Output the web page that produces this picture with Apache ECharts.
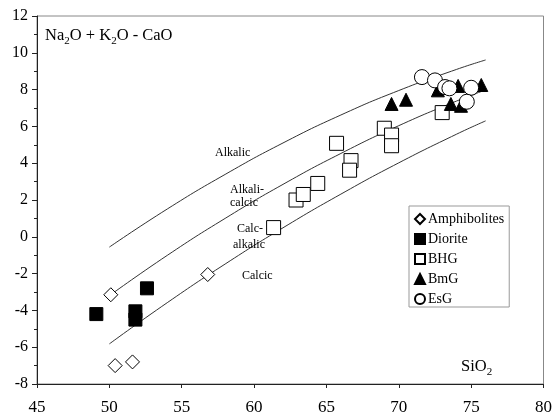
<!DOCTYPE html>
<html>
<head>
<meta charset="utf-8">
<script src="https://cdn.jsdelivr.net/npm/echarts@6/dist/echarts.min.js"></script>
<style>html,body{margin:0;padding:0;background:#fff}#c{width:555px;height:417px}</style>
</head>
<body>
<div id="c"></div>
<script>
// ---- data ----
var xTicks = [45, 50, 55, 60, 65, 70, 75, 80];
var yTicks = [-8, -6, -4, -2, 0, 2, 4, 6, 8, 10, 12];
var seriesNames = ['Amphibolites', 'Diorite', 'BHG', 'BmG', 'EsG'];

var amphibolites = [[50.1, -3.15], [56.8, -2.05], [50.4, -7.0], [51.6, -6.8]];
var diorite = [[49.1, -4.2], [52.6, -2.8], [51.8, -4.05], [51.8, -4.5]];
var bhg = [[61.35, 0.5], [62.9, 2.0], [63.4, 2.3], [64.4, 2.9], [65.7, 5.08], [66.7, 4.14],
           [66.6, 3.62], [69.0, 5.9], [69.5, 5.53], [69.5, 4.95], [73.0, 6.75]];
var bmg = [[69.5, 7.22], [70.5, 7.45], [72.7, 7.96], [74.1, 8.2], [75.7, 8.25], [73.6, 7.22], [74.3, 7.12]];
var esg = [[71.6, 8.68], [72.5, 8.5], [73.2, 8.14], [73.5, 8.07], [75.0, 8.1], [74.7, 7.34]];

// boundary curves
var curveAlkalic = [[50, -0.56], [54, 1.51], [58, 3.39], [62, 5.10], [66, 6.62], [70, 7.95], [74, 9.10], [76, 9.61]];
var curveAlkaliCalcic = [[50, -3.20], [54, -1.01], [58, 1.00], [62, 2.85], [66, 4.53], [70, 6.04], [74, 7.38], [76, 7.98]];
var curveCalcAlkalic = [[50, -5.82], [54, -3.58], [58, -1.48], [62, 0.49], [66, 2.32], [70, 4.02], [74, 5.58], [76, 6.30]];

var serif = '"Liberation Serif", "DejaVu Serif", serif';
var chart = echarts.init(document.getElementById('c'));

function lineSeries(d) {
  return {
    type: 'line', data: d, smooth: true, showSymbol: false, symbol: 'none',
    lineStyle: {color: '#333', width: 1}, silent: true, z: 1, legendHoverLink: false
  };
}
function scatter(name, d, symbol, size, fill) {
  return {
    name: name, type: 'scatter', data: d, symbol: symbol, symbolSize: size, z: 3,
    itemStyle: {color: fill, borderColor: '#000', borderWidth: 1, opacity: 1}
  };
}
var richSub = {
  n: {fontSize: 16.5, fontFamily: serif, color: '#000', lineHeight: 19, verticalAlign: 'top'},
  s: {fontSize: 11, fontFamily: serif, color: '#000', lineHeight: 11, verticalAlign: 'top', padding: [9, 0, 0, 0]}
};
function lbl(x, y, t) {
  return {type: 'text', left: x, top: y, style: {text: t, font: '12px ' + serif, fill: '#000', textAlign: 'center'}, z: 10};
}

chart.setOption({
  animation: false,
  backgroundColor: '#fff',
  grid: {left: 37, right: 9, top: 16, bottom: 33, show: true, borderColor: '#888', borderWidth: 1, backgroundColor: 'transparent'},
  xAxis: {
    type: 'value', min: xTicks[0], max: xTicks[xTicks.length - 1], interval: 5,
    axisLine: {show: true, onZero: false, lineStyle: {color: '#222', width: 1}},
    axisTick: {show: true, length: 4, lineStyle: {color: '#222'}},
    splitLine: {show: false},
    axisLabel: {fontSize: 17, fontFamily: serif, color: '#000', margin: 15}
  },
  yAxis: {
    type: 'value', min: yTicks[0], max: yTicks[yTicks.length - 1], interval: 2,
    axisLine: {show: true, onZero: false, lineStyle: {color: '#222', width: 1}},
    axisTick: {show: true, length: 5, lineStyle: {color: '#222'}},
    minorTick: {show: true, splitNumber: 2, length: 3, lineStyle: {color: '#222'}},
    splitLine: {show: false},
    axisLabel: {fontSize: 16, fontFamily: serif, color: '#000', margin: 9}
  },
  legend: {
    orient: 'vertical', left: 409, top: 206, data: seriesNames,
    itemWidth: 10, itemHeight: 10, itemGap: 6, padding: [6, 5, 1, 5],
    borderColor: '#999', borderWidth: 1, backgroundColor: '#fff',
    textStyle: {fontSize: 14, fontFamily: serif, color: '#000', padding: [0, 0, 0, -2]},
    selectedMode: false
  },
  series: [
    lineSeries(curveAlkalic),
    lineSeries(curveAlkaliCalcic),
    lineSeries(curveCalcAlkalic),
    scatter(seriesNames[0], amphibolites, 'diamond', 14, '#fff'),
    scatter(seriesNames[1], diorite, 'rect', 13, '#000'),
    scatter(seriesNames[2], bhg, 'rect', 14, '#fff'),
    scatter(seriesNames[3], bmg, 'triangle', 13, '#000'),
    scatter(seriesNames[4], esg, 'circle', 15, '#fff')
  ],
  graphic: [
    {type: 'text', left: 45, top: 27, z: 10,
     style: {text: '{n|Na}{s|2}{n|O + K}{s|2}{n|O - CaO}', rich: richSub}},
    {type: 'text', left: 461, top: 358, z: 10,
     style: {text: '{n|SiO}{s|2}', rich: richSub}},
    lbl(215, 147, 'Alkalic'),
    lbl(230, 184, 'Alkali-'),
    lbl(230, 197, 'calcic'),
    lbl(237, 223, 'Calc-'),
    lbl(233, 239, 'alkalic'),
    lbl(242, 270, 'Calcic')
  ]
});
</script>
</body>
</html>
